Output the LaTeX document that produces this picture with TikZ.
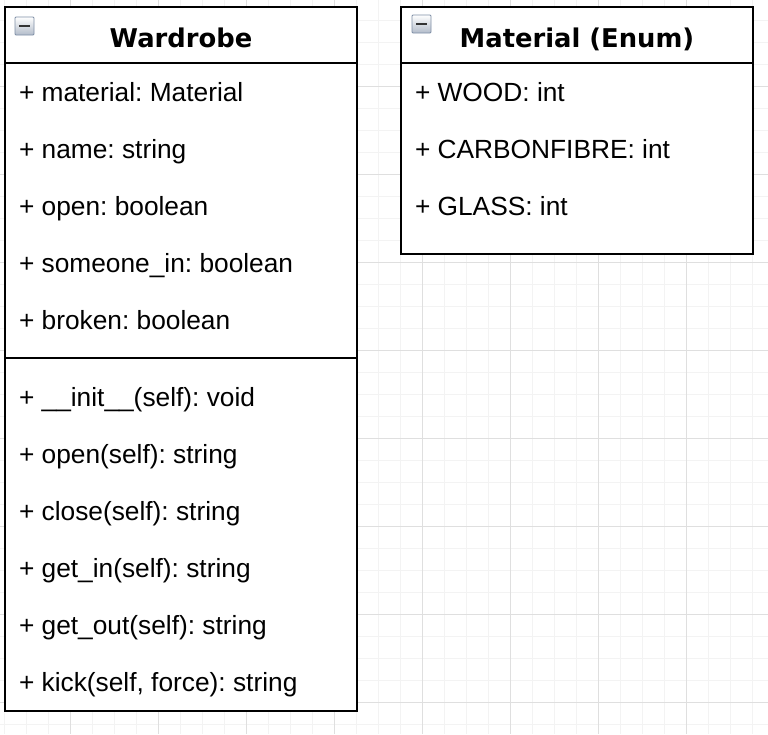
\documentclass[tikz,border=0pt]{standalone}
\usepackage{fontspec}
\setmainfont{Liberation Sans}
\newfontfamily\titlefont{DejaVu Sans}

\definecolor{gridminor}{HTML}{F3F3F3}
\definecolor{gridmajor}{HTML}{DFDFDF}
\definecolor{iconedge}{HTML}{7F8FA6}

\begin{document}
\frenchspacing
\begin{tikzpicture}[x=1pt, y=-1pt, line width=2pt,
		classbox/.style={draw=black, fill=white},
		member/.style={anchor=base west, inner sep=0pt, font=\fontsize{26.3}{30}\selectfont},
		classtitle/.style={anchor=base, inner sep=0pt, font=\titlefont\bfseries\fontsize{25.8}{30}\selectfont},
		collapse/.style={draw=iconedge, line width=0.8pt, top color=white, bottom color=iconedge!60, rounded corners=1pt}]
		\useasboundingbox (0, 0) rectangle (768, 734);
		
		% Raster im Hintergrund
		\foreach \x in {4, 26, ..., 768} \draw[gridminor, line width=1pt] (\x, 0) -- (\x, 734);
		\foreach \y in {20, 42, ..., 734} \draw[gridminor, line width=1pt] (0, \y) -- (768, \y);
		\foreach \x in {70, 158, ..., 768} \draw[gridmajor, line width=1pt] (\x, 0) -- (\x, 734);
		\foreach \y in {86, 174, ..., 734} \draw[gridmajor, line width=1pt] (0, \y) -- (768, \y);
		
		% Klasse Wardrobe
		\draw[classbox] (5, 7) rectangle (357, 711);
		\draw (5, 63) -- (357, 63);
		\draw (5, 358) -- (357, 358);
		\draw[collapse] (15, 17) rectangle (34, 35);
		\draw[line width=2.2pt, black!80] (19, 26) -- (30, 26);
		\node[classtitle] (wardrobe) at (181, 47) {Wardrobe};
		
		\node[member] (attr1) at (18, 101) {+ material: Material};
		\node[member] (attr2) at (18, 158) {+ name: string};
		\node[member] (attr3) at (18, 215) {+ open: boolean};
		\node[member] (attr4) at (18, 272) {+ someone\_in: boolean};
		\node[member] (attr5) at (18, 329) {+ broken: boolean};
		
		\node[member] (meth1) at (18, 406) {+ \_\_init\_\_(self): void};
		\node[member] (meth2) at (18, 463) {+ open(self): string};
		\node[member] (meth3) at (18, 520) {+ close(self): string};
		\node[member] (meth4) at (18, 577) {+ get\_in(self): string};
		\node[member] (meth5) at (18, 634) {+ get\_out(self): string};
		\node[member] (meth6) at (18, 691) {+ kick(self, force): string};
		
		% Aufzaehlung Material
		\draw[classbox] (401, 7) rectangle (753, 254);
		\draw (401, 63) -- (753, 63);
		\draw[collapse] (412, 15) rectangle (431, 33);
		\draw[line width=2.2pt, black!80] (416, 24) -- (427, 24);
		\node[classtitle] (material) at (577, 47) {Material (Enum)};
		
		\node[member] (wood) at (414, 101) {+ WOOD: int};
		\node[member] (carbon) at (414, 158) {+ CARBONFIBRE: int};
		\node[member] (glass) at (414, 215) {+ GLASS: int};
\end{tikzpicture}
\end{document}
